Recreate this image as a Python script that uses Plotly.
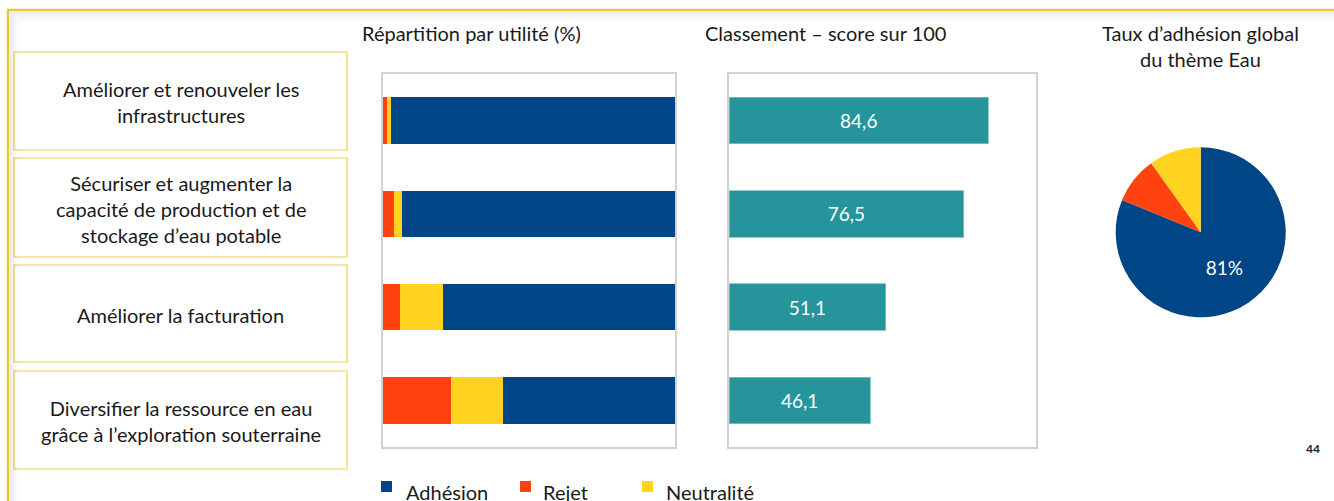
import plotly.graph_objects as go

# ---- data ----
categories = [
    "Améliorer et renouveler les<br>infrastructures",
    "Sécuriser et augmenter la<br>capacité de production et de<br>stockage d’eau potable",
    "Améliorer la facturation",
    "Diversifier la ressource en eau<br>grâce à l’exploration souterraine",
]
rejet = [1.4, 3.8, 5.8, 23.4]
neutralite = [1.2, 2.7, 14.6, 17.8]
adhesion = [97.4, 93.5, 79.6, 58.8]
scores = [84.6, 76.5, 51.1, 46.1]
pie_labels = ["Adhésion", "Rejet", "Neutralité"]
pie_values = [81.2, 8.9, 9.9]

W, H = 1334, 501
BLUE, RED, YELLOW, TEAL = "#004586", "#FF420E", "#FFD320", "#25959B"
FONT = "Lato"
TXT = "#1a1a1a"
FS = 20


def px(x):
    return x / W


def py(y):
    return 1 - y / H


cat_ids = [f"c{i}" for i in range(len(categories))]

fig = go.Figure()
for name, vals, col in [("Rejet", rejet, RED), ("Neutralité", neutralite, YELLOW), ("Adhésion", adhesion, BLUE)]:
    fig.add_trace(go.Bar(y=cat_ids, x=vals, orientation="h", name=name,
                         marker=dict(color=col, line=dict(width=0)),
                         xaxis="x", yaxis="y", showlegend=False))

fig.add_trace(go.Bar(y=cat_ids, x=scores, orientation="h",
                     text=[f"{v:.1f}".replace(".", ",") for v in scores],
                     textposition="inside", insidetextanchor="middle",
                     textfont=dict(color="white", size=19, family=FONT),
                     marker=dict(color=TEAL, line=dict(color="#7cc3c6", width=0.8)),
                     xaxis="x2", yaxis="y2", showlegend=False))

fig.add_trace(go.Pie(labels=pie_labels, values=pie_values, sort=False, direction="clockwise",
                     rotation=0,
                     marker=dict(colors=[BLUE, RED, YELLOW], line=dict(width=0)),
                     text=[f"{round(pie_values[0])}%", "", ""], textinfo="text",
                     textposition="inside", insidetextorientation="horizontal",
                     textfont=dict(color="white", size=19, family=FONT),
                     domain=dict(x=[px(1115.7), px(1285.7)], y=[py(317.3), py(147.3)]),
                     showlegend=False))

axis_common = dict(showline=True, mirror=True, linecolor="#d2d2d2", linewidth=1.5,
                   showgrid=False, zeroline=False, showticklabels=False, ticks="", fixedrange=True)

fig.update_layout(
    width=W, height=H, margin=dict(l=0, r=0, t=0, b=0),
    paper_bgcolor="white", plot_bgcolor="white",
    barmode="stack", bargap=0.5,
    font=dict(family=FONT, size=FS, color=TXT),
    xaxis=dict(domain=[px(383), px(675)], range=[0, 100], anchor="y", **axis_common),
    yaxis=dict(domain=[py(447), py(74)], autorange="reversed", anchor="x", **axis_common),
    xaxis2=dict(domain=[px(729), px(1035.7)], range=[0, 100], anchor="y2", **axis_common),
    yaxis2=dict(domain=[py(447), py(74)], autorange="reversed", anchor="x2", **axis_common),
)

shapes = []
annotations = []

# outer frame shadow + yellow border
for i, a in enumerate([0.07, 0.05, 0.035, 0.02, 0.01]):
    off = 2 + i * 2
    shapes.append(dict(type="line", xref="paper", yref="paper", x0=px(9 + off), x1=1, y0=py(11 + off), y1=py(11 + off),
                       line=dict(color=f"rgba(0,0,0,{a})", width=2)))
    shapes.append(dict(type="line", xref="paper", yref="paper", x0=px(9 + off), x1=px(9 + off), y0=py(11 + off), y1=0,
                       line=dict(color=f"rgba(0,0,0,{a})", width=2)))
shapes.append(dict(type="line", xref="paper", yref="paper", x0=px(7), x1=1, y0=py(10), y1=py(10),
                   line=dict(color="#E6CB2C", width=2.5)))
shapes.append(dict(type="line", xref="paper", yref="paper", x0=px(8), x1=px(8), y0=py(9), y1=0,
                   line=dict(color="#E6CB2C", width=2.5)))

# category boxes
boxes = [(52, 150), (158, 257), (265, 362), (371, 469)]
for (y0, y1), label in zip(boxes, categories):
    shapes.append(dict(type="rect", xref="paper", yref="paper", x0=px(14), x1=px(347), y0=py(y1), y1=py(y0),
                       line=dict(color="#E8D44A", width=1.2), fillcolor="white", layer="below"))
    annotations.append(dict(text=label, xref="paper", yref="paper", x=px(180.5), y=py((y0 + y1) / 2 + 1),
                            xanchor="center", yanchor="middle", showarrow=False, align="center",
                            font=dict(size=FS, family=FONT, color=TXT)))

# titles
annotations.append(dict(text="Répartition par utilité (%)", xref="paper", yref="paper", x=px(471), y=py(33),
                        xanchor="center", yanchor="middle", showarrow=False, font=dict(size=FS)))
annotations.append(dict(text="Classement – score sur 100", xref="paper", yref="paper", x=px(825), y=py(33),
                        xanchor="center", yanchor="middle", showarrow=False, font=dict(size=FS)))
annotations.append(dict(text="Taux d’adhésion global<br>du thème Eau", xref="paper", yref="paper", x=px(1200),
                        y=py(46), xanchor="center", yanchor="middle", showarrow=False, align="center",
                        font=dict(size=FS)))

# legend
legend_items = [("Adhésion", BLUE, 381, 404), ("Rejet", RED, 520, 541), ("Neutralité", YELLOW, 642, 664)]
for name, col, sx, tx in legend_items:
    shapes.append(dict(type="rect", xref="paper", yref="paper", x0=px(sx), x1=px(sx + 11), y0=py(492), y1=py(481),
                       line=dict(width=0), fillcolor=col))
    annotations.append(dict(text=name, xref="paper", yref="paper", x=px(tx), y=py(492),
                            xanchor="left", yanchor="middle", showarrow=False, font=dict(size=FS)))

# page number
annotations.append(dict(text="<b>44</b>", xref="paper", yref="paper", x=px(1313), y=py(448),
                        xanchor="center", yanchor="middle", showarrow=False, font=dict(size=12, color="#222")))

fig.update_layout(shapes=shapes, annotations=annotations)
fig.write_html("out.html", config={"displayModeBar": False},
               post_script="document.body.style.margin='0';document.body.style.overflow='hidden';")
